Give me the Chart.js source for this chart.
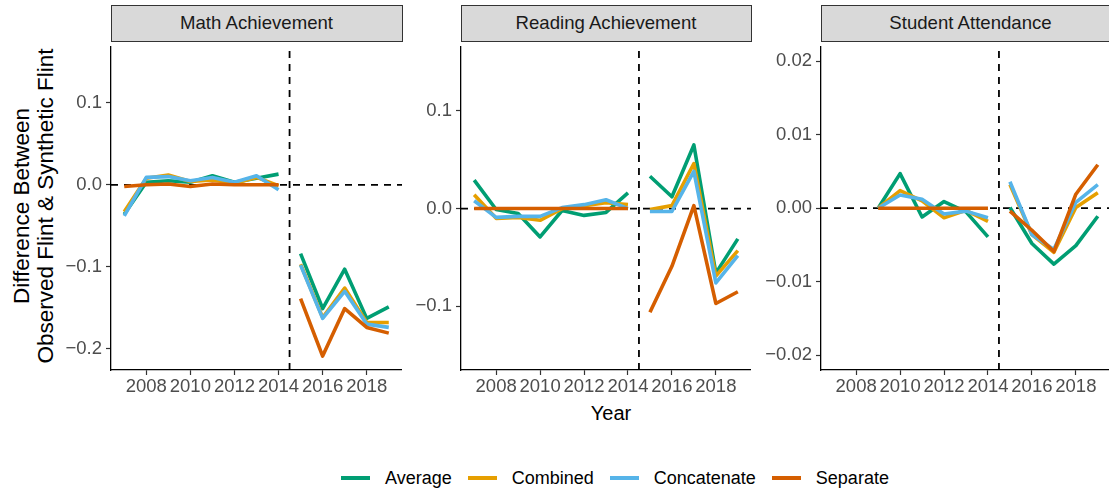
<!DOCTYPE html>
<html>
<head>
<meta charset="utf-8">
<script src="https://cdn.jsdelivr.net/npm/chart.js@4.4.1/dist/chart.umd.min.js"></script>
<style>
  body { margin: 0; width: 1109px; height: 492px; overflow: hidden; background: #fff;
         position: relative; font-family: "Liberation Sans", Arial, sans-serif; }
  canvas { position: absolute; }
  .strip { position: absolute; top: 5px; height: 37px; background: #d9d9d9; border: 1.3px solid #333;
           box-sizing: border-box; text-align: center; line-height: 34px; font-size: 18.6px; color: #1a1a1a; }
  #ytitle { position: absolute; width: 380px; height: 48px; left: -156px; top: 182px; transform: rotate(-90deg);
            text-align: center; font-size: 22.5px; line-height: 24px; color: #000; }
  #xtitle { position: absolute; left: 561px; width: 100px; top: 402px; text-align: center; font-size: 20px; line-height: 22px; color: #000; }
  #legend { position: absolute; left: 341px; top: 467px; display: flex; align-items: center; font-size: 18px; color: #000; }
  #legend .sw { width: 29px; height: 4px; margin-right: 15px; }
  #legend .lab { margin-right: 16px; line-height: 22px; }
</style>
</head>
<body>
<div class="strip" style="left:110.5px;width:292px">Math Achievement</div>
<div class="strip" style="left:460.5px;width:291px">Reading Achievement</div>
<div class="strip" style="left:820.5px;width:300px">Student Attendance</div>
<div id="ytitle">Difference Between<br>Observed Flint &amp; Synthetic Flint</div>
<div id="xtitle">Year</div>
<div id="legend"></div>
<canvas id="c1" width="351" height="378" style="left:51px;top:32px"></canvas>
<canvas id="c2" width="350" height="378" style="left:401px;top:32px"></canvas>
<canvas id="c3" width="350" height="378" style="left:761px;top:32px"></canvas>
<script>
// données
const years = [2007, 2008, 2009, 2010, 2011, 2012, 2013, 2014, 2015, 2016, 2017, 2018, 2019];
const cutoff = 2014.5;
const series = ["Average", "Combined", "Concatenate", "Separate"];
const colors = ["#009E73", "#E69F00", "#56B4E9", "#D55E00"];
const xTicks = [2008, 2010, 2012, 2014, 2016, 2018];

// Math Achievement
const mathAverage     = [-0.036, 0.003, 0.005, 0.003, 0.011, 0.003, 0.008, 0.013, -0.084, -0.151, -0.103, -0.163, -0.149];
const mathCombined    = [-0.033, 0.008, 0.012, 0.004, 0.006, 0.002, 0.009, -0.001, -0.097, -0.162, -0.126, -0.168, -0.168];
const mathConcatenate = [-0.038, 0.009, 0.010, 0.005, 0.009, 0.003, 0.011, -0.006, -0.098, -0.163, -0.130, -0.170, -0.174];
const mathSeparate    = [-0.002, 0.000, 0.001, -0.002, 0.001, 0.000, 0.000, 0.000, -0.139, -0.209, -0.151, -0.174, -0.181];
const mathTicks = [-0.2, -0.1, 0, 0.1];
const mathLabels = ["\u22120.2", "\u22120.1", "0.0", "0.1"];

// Reading Achievement
const readAverage     = [0.029, -0.001, -0.005, -0.029, -0.002, -0.007, -0.004, 0.016, 0.033, 0.012, 0.065, -0.066, -0.031];
const readCombined    = [0.014, -0.010, -0.009, -0.012, 0.000, 0.003, 0.006, 0.004, -0.001, 0.003, 0.046, -0.069, -0.043];
const readConcatenate = [0.008, -0.009, -0.008, -0.008, 0.001, 0.004, 0.009, 0.000, -0.003, -0.003, 0.038, -0.076, -0.048];
const readSeparate    = [0, 0, 0, 0, 0, 0, 0, 0, -0.106, -0.059, 0.003, -0.097, -0.085];
const readTicks = [-0.1, 0, 0.1];
const readLabels = ["\u22120.1", "0.0", "0.1"];

// Student Attendance
const attAverage     = [null, null, 0, 0.0047, -0.0012, 0.0009, -0.0005, -0.0039, 0.0001, -0.0048, -0.0076, -0.0051, -0.0011];
const attCombined    = [null, null, 0, 0.0024, 0.0010, -0.0013, -0.0003, -0.0018, 0.0032, -0.0036, -0.0060, 0.0001, 0.0021];
const attConcatenate = [null, null, 0, 0.0018, 0.0012, -0.0008, -0.0004, -0.0013, 0.0036, -0.0036, -0.0056, 0.0008, 0.0032];
const attSeparate    = [null, null, 0, 0, 0, 0, 0, 0, -0.0004, -0.0030, -0.0059, 0.0019, 0.0059];
const attTicks = [-0.02, -0.01, 0, 0.01, 0.02];
const attLabels = ["\u22120.02", "\u22120.01", "0.00", "0.01", "0.02"];

const font = "'Liberation Sans', Arial, sans-serif";

// legende html
const legend = document.getElementById("legend");
series.forEach((name, i) => {
  legend.innerHTML += `<div class="sw" style="background:${colors[i]}"></div><div class="lab">${name}</div>`;
});

// lignes pointillées (zéro + coupure)
const refLines = {
  id: "refLines",
  beforeDatasetsDraw(chart) {
    const { ctx, chartArea: a, scales: { x, y } } = chart;
    ctx.save();
    ctx.strokeStyle = "#000";
    ctx.lineWidth = 1.8;
    ctx.setLineDash([7, 6]);
    ctx.beginPath();
    const y0 = y.getPixelForValue(0);
    ctx.moveTo(a.left, y0); ctx.lineTo(a.right, y0);
    const xc = x.getPixelForValue(cutoff);
    ctx.moveTo(xc, a.bottom); ctx.lineTo(xc, a.top);
    ctx.stroke();
    ctx.restore();
  }
};

function toPoints(vals) {
  const pts = [];
  years.forEach((yr, i) => {
    pts.push({ x: yr, y: vals[i] });
    if (yr === 2014) pts.push({ x: cutoff, y: null });
  });
  return pts;
}

function makePanel(id, values, yMin, yMax, yTicks, yLabels) {
  new Chart(document.getElementById(id), {
    type: "line",
    data: {
      datasets: values.map((v, i) => ({
        label: series[i],
        data: toPoints(v),
        borderColor: colors[i],
        borderWidth: 3.6,
        pointRadius: 0,
        spanGaps: false,
        borderJoinStyle: "round",
        order: series.length - i
      }))
    },
    options: {
      responsive: false,
      animation: false,
      devicePixelRatio: 1,
      layout: { autoPadding: false, padding: { top: 10 } },
      plugins: { legend: { display: false }, tooltip: { enabled: false } },
      scales: {
        x: {
          type: "linear", min: 2006.4, max: 2019.6,
          afterBuildTicks: s => { s.ticks = xTicks.map(v => ({ value: v })); },
          afterFit: s => { s.height = 40; },
          ticks: { callback: v => String(v), color: "#4d4d4d", font: { family: font, size: 18.5 }, padding: 1, maxRotation: 0, autoSkip: false },
          grid: { drawOnChartArea: false, drawTicks: true, tickLength: 5, tickColor: "#333", tickWidth: 1.2 },
          border: { display: true, color: "#000", width: 1.3 }
        },
        y: {
          min: yMin, max: yMax,
          afterBuildTicks: s => { s.ticks = yTicks.map(v => ({ value: v })); },
          afterFit: s => { s.width = 60; },
          ticks: { callback: (v, i) => yLabels[i], color: "#4d4d4d", font: { family: font, size: 18.5 }, padding: 4 },
          grid: { drawOnChartArea: false, drawTicks: true, tickLength: 5, tickColor: "#333", tickWidth: 1.2 },
          border: { display: true, color: "#000", width: 1.3 }
        }
      }
    },
    plugins: [refLines]
  });
}

makePanel("c1", [mathAverage, mathCombined, mathConcatenate, mathSeparate], -0.226, 0.168, mathTicks, mathLabels);
makePanel("c2", [readAverage, readCombined, readConcatenate, readSeparate], -0.165, 0.165, readTicks, readLabels);
makePanel("c3", [attAverage, attCombined, attConcatenate, attSeparate], -0.022, 0.0219, attTicks, attLabels);
</script>
</body>
</html>
